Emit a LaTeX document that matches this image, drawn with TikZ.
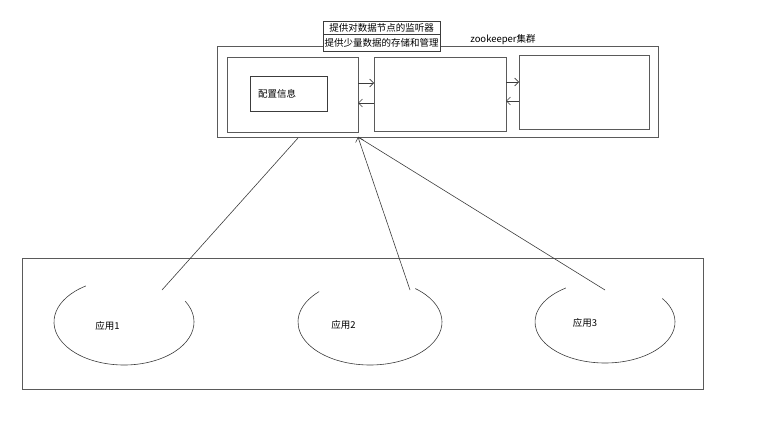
\documentclass[tikz,border=0pt]{standalone}
\usepackage{fontspec}
\setmainfont{Noto Sans CJK SC}
\usetikzlibrary{arrows.meta}
\definecolor{boxgray}{HTML}{5A5A5A}
\definecolor{linegray}{HTML}{3C3C3C}

\begin{document}
\begin{tikzpicture}[
  x=1pt,y=-1pt,
  box/.style={draw=boxgray,line width=1pt,inner sep=0pt,outer sep=0pt},
  tag/.style={draw=linegray,line width=0.7pt,inner sep=0pt,outer sep=0pt,
    minimum width=117pt,font=\fontsize{9.5}{10}\selectfont},
  txt/.style={font=\fontsize{9.5}{10}\selectfont,inner sep=0pt},
  arr/.style={draw=linegray,line width=0.6pt,-{Straight Barb[length=4pt,width=8pt]}},
  link/.style={draw=linegray,line width=0.6pt},
  app/.style={draw=linegray,line width=0.6pt}
]
\useasboundingbox (0,0) rectangle (771,431);
% zookeeper cluster
\node[box,minimum width=441pt,minimum height=91pt] (zk) at (437.5,91.5) {};
\node[box,minimum width=131pt,minimum height=75pt] (s1) at (292.5,94.5) {};
\node[box,minimum width=132pt,minimum height=74pt] (s2) at (440,94) {};
\node[box,minimum width=130pt,minimum height=74pt] (s3) at (584,92) {};
\node[box,draw=linegray,line width=0.7pt,minimum width=77pt,minimum height=35pt,
  txt,align=left,text width=61pt,inner xsep=8pt] (cfg) at (288.5,93.5) {配置信息};
\node[tag,minimum height=13pt,fill=white] (tag1) at (381.5,27.5) {提供对数据节点的监听器};
\node[tag,minimum height=17pt,anchor=north,fill=white] (tag2) at (tag1.south) {提供少量数据的存储和管理};
\node[txt] (zkname) at (503,40) {zookeeper集群};
\foreach \p/\q/\dy in {s1/s2/11.5pt,s2/s3/12pt}
  {\draw[arr] ([yshift=\dy]\p.east) -- ([yshift=\dy]\p.east -| \q.west);}
\foreach \p/\q/\dy in {s2/s1/-8.5pt,s3/s2/-7pt}
  {\draw[arr] ([yshift=\dy]\q.east -| \p.west) -- ([yshift=\dy]\q.east);}

% applications
\node[box,minimum width=681pt,minimum height=131pt] (apps) at (362.5,323.5) {};
\coordinate (e1) at (124,322);
\coordinate (e2) at (370,322);
\coordinate (e3) at (605,322);
\draw[app] (e1) ++(29:70pt and 43pt) arc[start angle=29,end angle=-237,x radius=70pt,y radius=43pt];
\draw[app] (e2) ++(51:72pt and 43pt) arc[start angle=51,end angle=-225,x radius=72pt,y radius=43pt];
\draw[app] (e3) ++(35:70pt and 41pt) arc[start angle=35,end angle=-236,x radius=70pt,y radius=41pt];
\node[txt] (app1) at (107.5,326) {应用1};
\node[txt] (app2) at (343.5,325) {应用2};
\node[txt] (app3) at (585,323) {应用3};

% links to the cluster
\coordinate (hub) at (zk.south -| s1.east);
\coordinate (zkfoot) at (298,138);
\coordinate (a1) at (162,290);
\coordinate (a2) at (410,290);
\coordinate (a3) at (605,290);
\draw[link] (a1) -- (zkfoot);
\draw[arr] (a2) -- (hub);
\draw[link] (a3) -- (hub);
\end{tikzpicture}
\end{document}
